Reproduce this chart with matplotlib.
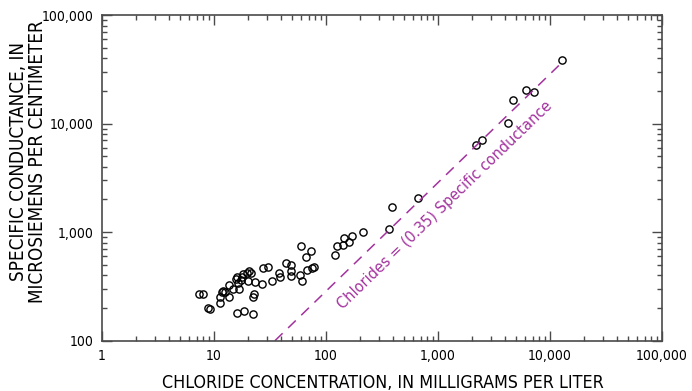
import matplotlib
matplotlib.use("Agg")
import matplotlib.pyplot as plt
import numpy as np
from matplotlib.ticker import FixedLocator, LogLocator, NullFormatter

plt.rcParams['font.family'] = ['DejaVu Sans']
plt.rcParams['font.stretch'] = 'condensed'

# Chloride concentration (mg/L) and specific conductance (uS/cm) for each sample
chloride = [7.4, 8.0, 8.8, 9.3, 11.2, 11.2, 11.7, 12.1, 12.5, 13.7, 13.7, 14.9,
            15.7, 16.5, 16.8, 16.2, 17.7, 18.3, 19.6, 20.5, 21.4, 20.2, 23.2, 26.7,
            27.5, 30.5, 22.2, 22.8, 16.0, 18.6, 22.2, 32.7, 38.3, 38.8, 44.0, 48.7,
            48.4, 48.4, 58.6, 61.4, 67.3, 75.5, 78.6, 59.4, 66.3, 73.0, 120, 125,
            141, 145, 162, 170, 213, 367, 386, 667, 2170, 2455, 4190, 4700,
            6170, 7200, 12880, 17.3]
conductance = [269, 269, 201, 197, 224, 254, 279, 287, 279, 254, 326, 299,
               368, 338, 299, 388, 388, 409, 423, 441, 423, 357, 345, 331,
               464, 480, 254, 269, 181, 188, 175, 357, 418, 384, 516, 498,
               441, 394, 403, 355, 448, 470, 474, 745, 594, 666, 615, 745,
               761, 877, 816, 926, 1009, 1068, 1691, 2048, 6340, 7047, 10170, 16450,
               20560, 19500, 38450, 362]

# Reference relation: chlorides = 0.35 x specific conductance
ratio = 0.35
line_chloride = [35, 12000]

x_ticks = [1, 10, 100, 1000, 10000, 100000]
x_labels = ['1', '10', '100', '1,000', '10,000', '100,000']
y_ticks = [100, 1000, 10000, 100000]
y_labels = ['100', '1,000', '10,000', '100,000']

magenta = '#a3329e'
spine_col = '#4a4a4a'

fig = plt.figure(figsize=(6.92, 3.91), dpi=100)
ax = fig.add_axes([0.1474, 0.1286, 0.8092, 0.833])

ax.plot(chloride, conductance, linestyle='none', marker='o', markersize=5.2,
        markerfacecolor='none', markeredgecolor='black', markeredgewidth=1.0)

lx = np.array(line_chloride, dtype=float)
ax.plot(lx, lx / ratio, color=magenta, linewidth=1.1, dashes=(7, 5))

ax.set_xscale('log')
ax.set_yscale('log')
ax.set_xlim(1, 100000)
ax.set_ylim(100, 100000)

ax.xaxis.set_major_locator(FixedLocator(x_ticks))
ax.set_xticklabels(x_labels)
ax.yaxis.set_major_locator(FixedLocator(y_ticks))
ax.set_yticklabels(y_labels)
ax.xaxis.set_minor_locator(LogLocator(base=10, subs=np.arange(2, 10)))
ax.yaxis.set_minor_locator(LogLocator(base=10, subs=np.arange(2, 10)))
ax.xaxis.set_minor_formatter(NullFormatter())
ax.yaxis.set_minor_formatter(NullFormatter())

ax.tick_params(which='both', direction='in', top=True, right=True,
               color=spine_col, width=1.0)
ax.tick_params(which='major', length=7, labelsize=10, pad=6)
ax.tick_params(which='minor', length=3.5)
for s in ax.spines.values():
    s.set_color(spine_col)
    s.set_linewidth(1.2)

ax.set_xlabel('CHLORIDE CONCENTRATION, IN MILLIGRAMS PER LITER', fontsize=12.8)
ax.xaxis.set_label_coords(0.502, -0.102)
ax.set_ylabel('SPECIFIC CONDUCTANCE, IN\nMICROSIEMENS PER CENTIMETER', fontsize=13.5,
              linespacing=1.0)
ax.yaxis.set_label_coords(-0.098, 0.549)

ax.text(1150, 1780, 'Chlorides = (0.35) Specific conductance', color=magenta,
        fontsize=11.6, rotation=44, rotation_mode='anchor', ha='center', va='center')

fig.savefig('out.png', dpi=100)
